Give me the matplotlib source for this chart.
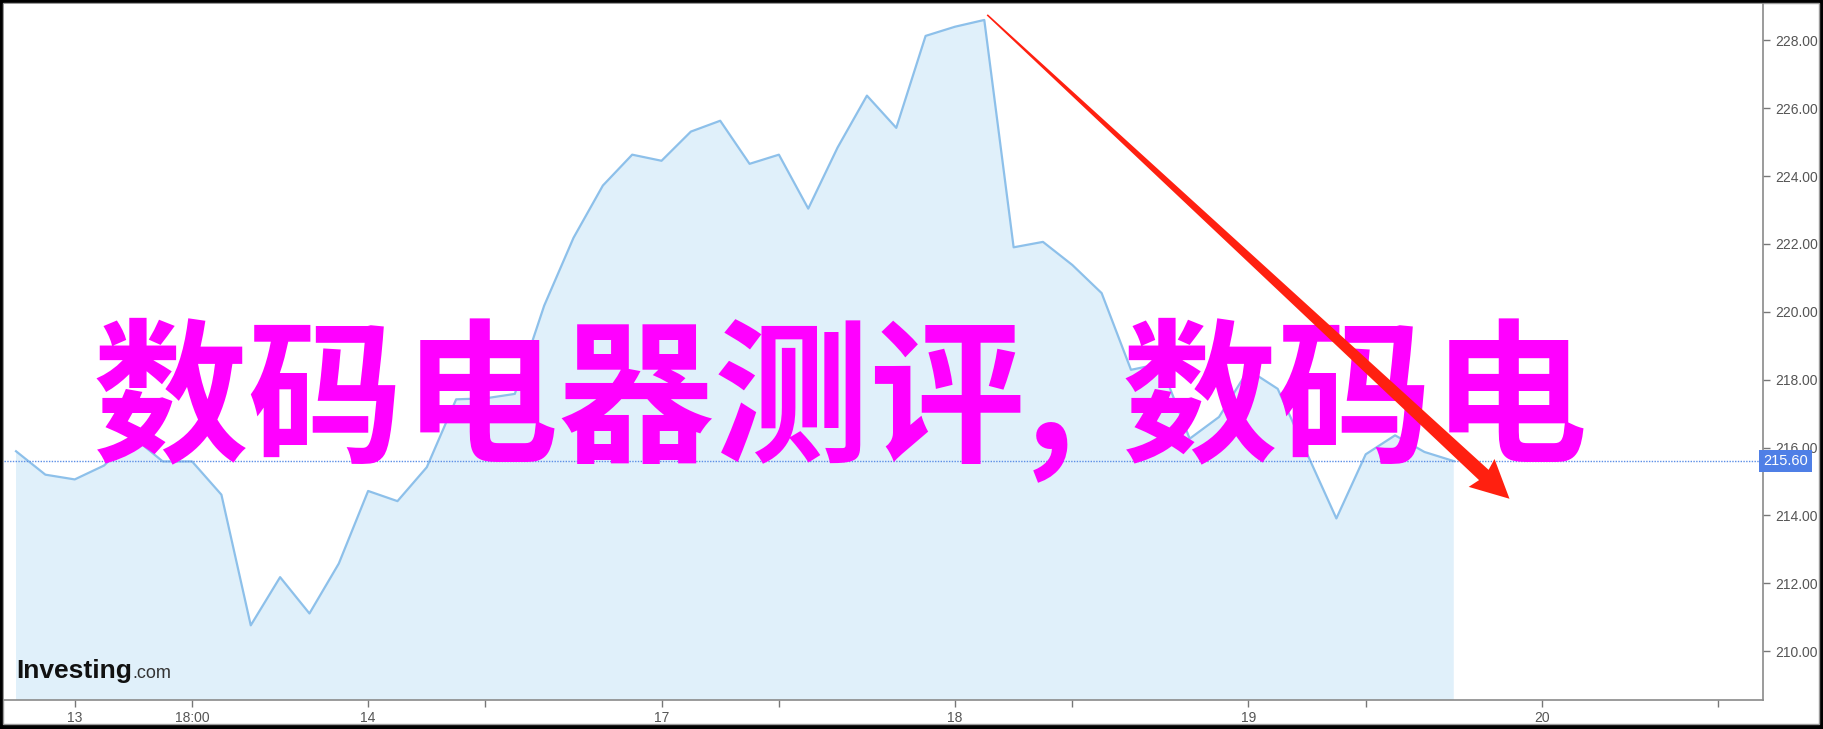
import numpy as np
import matplotlib
matplotlib.use("Agg")
from matplotlib import pyplot as plt
from matplotlib.patches import Polygon, Rectangle
from matplotlib.transforms import IdentityTransform

# Price series, one point per bar (10 bars per trading day).
prices = [215.89, 215.20, 215.06, 215.47, 216.30, 215.59, 215.59, 214.61, 210.76, 212.18,
          211.11, 212.58, 214.72, 214.42, 215.42, 217.42, 217.45, 217.58, 220.18, 222.18,
          223.72, 224.63, 224.45, 225.31, 225.63, 224.36, 224.63, 223.04, 224.84, 226.37,
          225.42, 228.13, 228.40, 228.60, 221.90, 222.06, 221.38, 220.55, 218.29, 218.47,
          216.26, 216.90, 218.29, 217.73, 215.82, 213.91, 215.80, 216.36, 215.87, 215.60]
bars = np.arange(len(prices))

tick_pos = [2, 6, 12, 16, 22, 26, 32, 36, 42, 46, 52, 58]
tick_labels = ["13", "18:00", "14", "", "17", "", "18", "", "19", "", "20", ""]
y_ticks = [210, 212, 214, 216, 218, 220, 222, 224, 226, 228]
last_price = 215.60

# red trend arrow, from/to in (bar, price)
arrow_start = (33.1, 228.75)
arrow_end = (50.9, 214.49)

title_parts = ["数码电器测评,", "数码电"]

W, H = 1824, 729
fig = plt.figure(figsize=(W / 100, H / 100), dpi=100)
fig.patch.set_facecolor("black")
fig.add_artist(Rectangle((3, 5), 1816, 721, transform=IdentityTransform(),
                         facecolor="white", edgecolor="#9a9a9a", lw=1, zorder=-1))

ax = fig.add_axes([4 / W, 29 / H, (1763 - 4) / W, (700 - 4) / H])
ax.set_facecolor("white")

ax.fill_between(bars, prices, 200, color="#e0f0fa", lw=0)
ax.plot(bars, prices, color="#8dc0ea", lw=1.6)
ax.axhline(last_price, color="#5b8ee6", lw=1, ls=(0, (1, 1)))

ax.set_xlim(-0.41, 59.54)
ax.set_ylim(208.56, 229.07)

ax.yaxis.tick_right()
ax.set_yticks(y_ticks)
ax.set_yticklabels([f"{v:.2f}" for v in y_ticks])
ax.set_xticks(tick_pos)
ax.set_xticklabels(tick_labels)
ax.tick_params(axis="both", colors="#777777", labelcolor="#555555", labelsize=10,
               length=5, width=1)
ax.tick_params(axis="x", pad=3)
ax.tick_params(axis="y", pad=4)
for lab in ax.get_xticklabels() + ax.get_yticklabels():
    lab.set_family("Liberation Sans")

for side in ["top", "left"]:
    ax.spines[side].set_visible(False)
for side in ["bottom", "right"]:
    ax.spines[side].set_color("#8a8a8a")
    ax.spines[side].set_linewidth(1.2)

# last price tag
ax.text(1.0, last_price, f"{last_price:.2f}", transform=ax.get_yaxis_transform(),
        ha="left", va="center", color="white", fontsize=10.5, family="Liberation Sans",
        bbox=dict(boxstyle="square,pad=0.3", fc="#4f7fe6", ec="none"), clip_on=False)

# watermark logo
renderer = fig.canvas.get_renderer()
logo = fig.text(16 / W, 1 - 678 / H, "Investing", fontsize=19, weight="bold",
                family="Liberation Sans", color="#111111")
logo_end = logo.get_window_extent(renderer).x1
fig.text((logo_end + 1) / W, 1 - 678 / H, ".com", fontsize=13, family="Liberation Sans",
         color="#333333")

# big magenta overlay text
cjk = ["Noto Sans CJK SC", "DejaVu Sans"]
fig.text(93 / W, 1 - 449 / H, title_parts[0], fontsize=112, weight="bold", color="#ff00ff",
         family=cjk, ha="left", va="baseline", zorder=5)
fig.text(1122 / W, 1 - 449 / H, title_parts[1], fontsize=112, weight="bold", color="#ff00ff",
         family=cjk, ha="left", va="baseline", zorder=5)

# tapered arrow, built in pixel space
p0 = ax.transData.transform(arrow_start)
p1 = ax.transData.transform(arrow_end)
u = (p1 - p0) / np.hypot(*(p1 - p0))
n = np.array([-u[1], u[0]])
base = p1 - u * 35
pts = [p0 + n * 0.8, base + n * 7, base + n * 19 - u * 3, p1,
       base - n * 19 - u * 3, base - n * 7, p0 - n * 0.8]
fig.add_artist(Polygon(pts, closed=True, transform=IdentityTransform(),
                       facecolor="#ff2010", edgecolor="none", zorder=10))

fig.savefig("out.png", dpi=100, facecolor=fig.get_facecolor())
